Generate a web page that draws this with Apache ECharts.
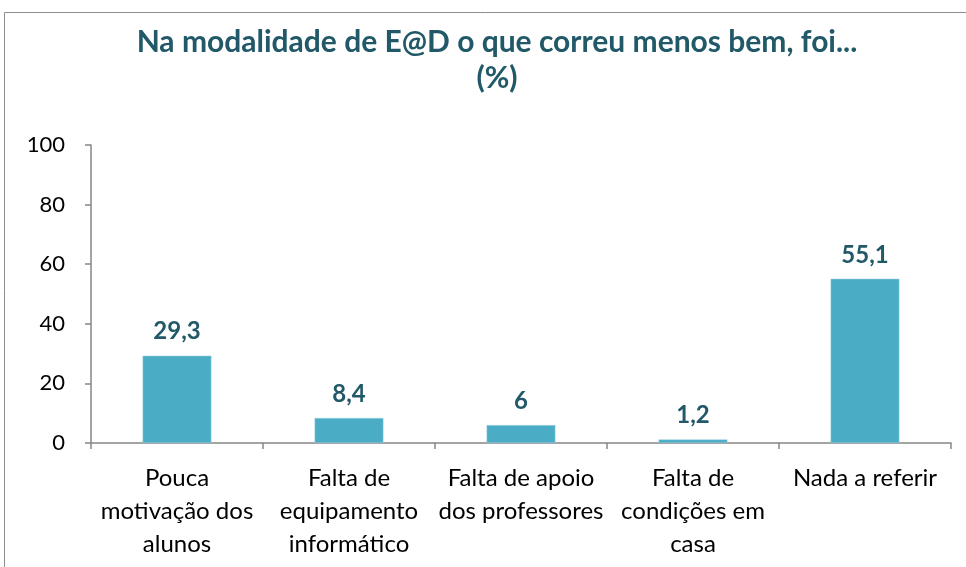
<!DOCTYPE html>
<html>
<head>
<meta charset="utf-8">
<script src="https://cdn.jsdelivr.net/npm/echarts@6/dist/echarts.min.js"></script>
<style>
  html, body { margin: 0; padding: 0; background: #fff; }
  #chart { width: 966px; height: 567px; }
</style>
</head>
<body>
<div id="chart"></div>
<script>
  // dados
  const categorias = ['Pouca\nmotivação dos\nalunos', 'Falta de\nequipamento\ninformático', 'Falta de apoio\ndos professores', 'Falta de\ncondições em\ncasa', 'Nada a referir'];
  const valores = [29.3, 8.4, 6, 1.2, 55.1];
  const yTicks = [0, 20, 40, 60, 80, 100];

  const fonte = 'Lato, "Open Sans", sans-serif';
  let myChart = echarts.init(document.getElementById('chart'));

  let option = {
    animation: false,
    title: {
      text: 'Na modalidade de E@D o que correu menos bem, foi...\n(%)',
      left: 492,
      textAlign: 'center',
      top: 19,
      textStyle: {
        color: '#215968',
        fontFamily: fonte,
        fontWeight: 'bold',
        fontSize: 30,
        lineHeight: 36
      }
    },
    graphic: [{
      type: 'rect',
      shape: { x: 4.5, y: 12.5, width: 980, height: 600 },
      style: { fill: 'none', stroke: '#8c8c8c', lineWidth: 1 },
      silent: true
    }],
    grid: { left: 91, right: 15, top: 145, bottom: 124 },
    xAxis: {
      type: 'category',
      data: categorias,
      axisLine: { lineStyle: { color: '#868686', width: 1.5 } },
      axisTick: { show: true, length: 6, lineStyle: { color: '#868686', width: 1.5 } },
      axisLabel: {
        color: '#000',
        fontFamily: fonte,
        fontSize: 24,
        lineHeight: 33,
        margin: 19,
        interval: 0
      }
    },
    yAxis: {
      type: 'value',
      min: yTicks[0],
      max: yTicks[yTicks.length - 1],
      interval: 20,
      axisLine: { show: true, lineStyle: { color: '#868686', width: 1.5 } },
      axisTick: { show: true, length: 6, lineStyle: { color: '#868686', width: 1.5 } },
      splitLine: { show: false },
      axisLabel: {
        color: '#000',
        fontFamily: fonte,
        fontSize: 22,
        margin: 26
      }
    },
    series: [{
      type: 'bar',
      data: valores,
      barWidth: '40%',
      itemStyle: { color: '#4BACC6', borderColor: '#9fd3e2', borderWidth: 0.5 },
      label: {
        show: true,
        position: 'top',
        distance: 12,
        color: '#215968',
        fontFamily: fonte,
        fontWeight: 'bold',
        fontSize: 24,
        formatter: function (p) { return String(p.value).replace('.', ','); }
      }
    }]
  };

  myChart.setOption(option);
  window.addEventListener('resize', function () { myChart.resize(); });
</script>
</body>
</html>
